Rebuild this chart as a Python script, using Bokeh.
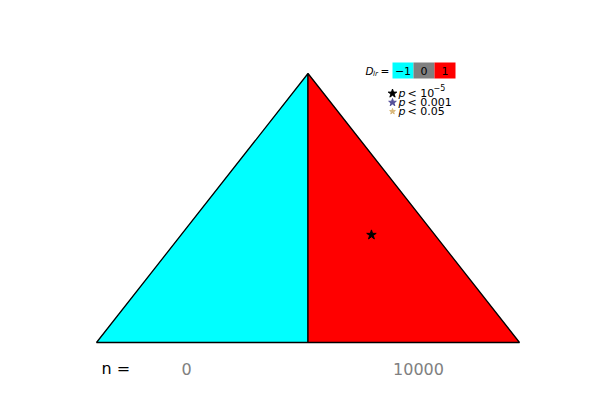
from bokeh.plotting import figure
from bokeh.models import Range1d
from bokeh.core.properties import value
from bokeh.embed import file_html
from bokeh.resources import INLINE

# ---- data ----
region_names = ["left", "right"]
region_xs = [[0.0, 0.5, 0.5], [0.5, 1.0, 0.5]]
region_ys = [[0.0, 0.0, 1.0], [0.0, 0.0, 1.0]]
region_D = [-1, 1]
D_levels = [-1, 0, 1]
D_labels = ["\u22121", "0", "1"]
D_colors = ["#00ffff", "#808080", "#ff0000"]

sig_x = [0.65]
sig_y = [0.40]
sig_level = ["p<1e-5"]
sig_names = ["p<1e-5", "p<0.001", "p<0.05"]
sig_colors = ["#000000", "#55509a", "#d9b779"]
sig_sizes = [10, 9, 7]

n_labels = ["0", "10000"]

# ---- pixel helpers for annotations ----
X0, XS = 96.0, 423.0
Y0, YS = 342.0, 269.0
def X(px):
    return (px - X0) / XS
def Y(py):
    return (Y0 - py) / YS

W, H = 600, 400
p = figure(width=W, height=H, output_backend="svg", toolbar_location=None,
           x_range=Range1d(X(0), X(W)), y_range=Range1d(Y(H), Y(0)),
           min_border=0, outline_line_color=None)
p.axis.visible = False
p.grid.visible = False
p.background_fill_color = "white"
p.border_fill_color = "white"

cmap = dict(zip(D_levels, D_colors))
p.patches(xs=region_xs, ys=region_ys, fill_color=[cmap[d] for d in region_D],
          line_color="black", line_width=1.3)

smap = dict(zip(sig_names, sig_colors))
szmap = dict(zip(sig_names, sig_sizes))
p.scatter(x=sig_x, y=sig_y, marker="star", size=[szmap[s] for s in sig_level],
          fill_color=[smap[s] for s in sig_level], line_color=[smap[s] for s in sig_level])

FONT = value("DejaVu Sans")

# ---- D_lr color legend ----
box_left = 392
box_w = 21
for i, (lab, col) in enumerate(zip(D_labels, D_colors)):
    l = box_left + i * box_w
    p.quad(left=X(l), right=X(l + box_w), top=Y(62), bottom=Y(78), fill_color=col, line_color=None)
    p.text(x=[X(l + box_w / 2)], y=[Y(70)], text=[lab], text_align="center", text_baseline="middle",
           text_font=FONT, text_font_size="11px", text_color="black")
p.text(x=[X(365)], y=[Y(70)], text=["D"], text_align="left", text_baseline="middle",
       text_font=FONT, text_font_style="italic", text_font_size="10.5px")
p.text(x=[X(372.5)], y=[Y(73)], text=["lr"], text_align="left", text_baseline="middle",
       text_font=FONT, text_font_style="italic", text_font_size="7px")
p.text(x=[X(380)], y=[Y(70)], text=["="], text_align="left", text_baseline="middle",
       text_font=FONT, text_font_size="10.5px")

# ---- significance legend ----
rows_y = [93, 102, 111]
tails = ["< 10", "< 0.001", "< 0.05"]
for ry, name, tail in zip(rows_y, sig_names, tails):
    p.scatter(x=[X(392)], y=[Y(ry)], marker="star", size=szmap[name] - 1,
              fill_color=smap[name], line_color=smap[name])
    p.text(x=[X(398)], y=[Y(ry)], text=["p"], text_align="left", text_baseline="middle",
           text_font=FONT, text_font_style="italic", text_font_size="11px")
    p.text(x=[X(407)], y=[Y(ry)], text=[tail], text_align="left", text_baseline="middle",
           text_font=FONT, text_font_size="11px")
p.text(x=[X(433)], y=[Y(87)], text=["\u22125"], text_align="left", text_baseline="middle",
       text_font=FONT, text_font_size="8px")

# ---- n labels ----
p.text(x=[X(101)], y=[Y(368)], text=["n ="], text_align="left", text_baseline="middle",
       text_font=FONT, text_font_size="16px", text_color="black")
p.text(x=[X(186), X(418)], y=[Y(368), Y(368)], text=n_labels, text_align="center",
       text_baseline="middle", text_font=FONT, text_font_size="16px", text_color="#808080")

open("out.html", "w").write(file_html(p, INLINE))
